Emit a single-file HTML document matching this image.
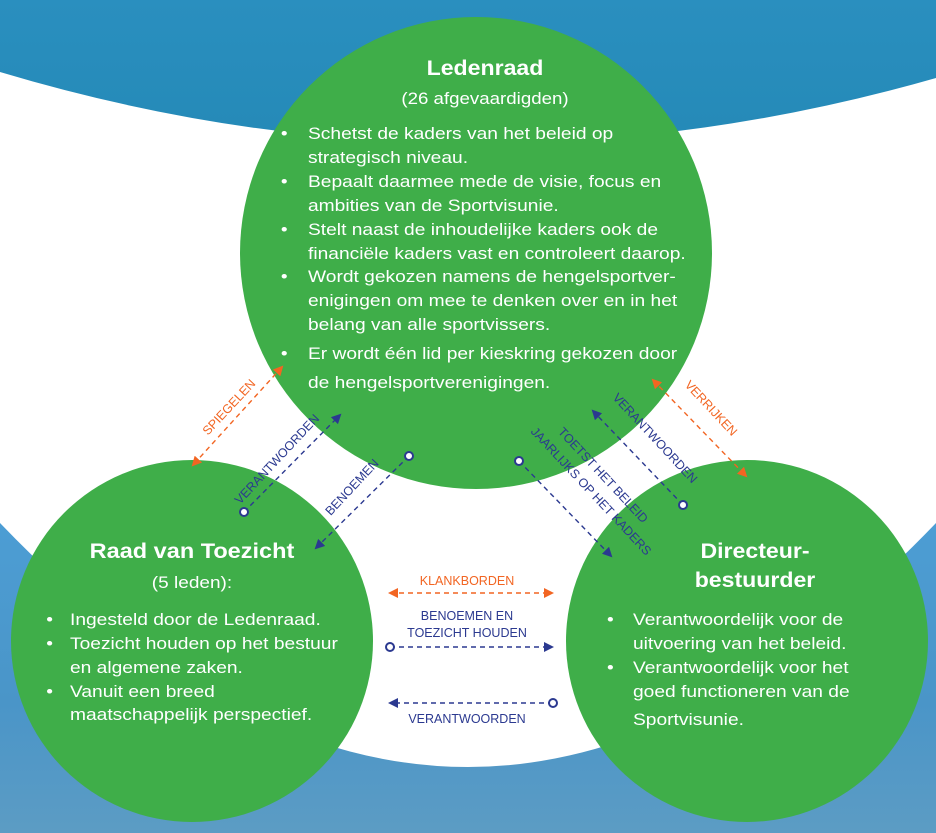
<!DOCTYPE html>
<html><head><meta charset="utf-8"><style>
html,body{margin:0;padding:0;width:936px;height:833px;overflow:hidden;background:#fff}
svg{display:block}
text{font-family:"Liberation Sans",sans-serif}
.w{fill:#fff;font-size:17px}
.h{fill:#fff;font-size:21px;font-weight:bold}
.b{fill:#2b3990;font-size:12.5px}
.o{fill:#f26522;font-size:12.5px}
</style></head><body>
<svg width="936" height="833" viewBox="0 0 936 833" xmlns="http://www.w3.org/2000/svg">
<defs>
<linearGradient id="tg" x1="0" y1="0" x2="0" y2="1"><stop offset="0" stop-color="#2a8fbf"/><stop offset="1" stop-color="#1a7fa8"/></linearGradient>
<linearGradient id="bg" x1="0" y1="0" x2="0" y2="1"><stop offset="0" stop-color="#4ea3dc"/><stop offset="0.7" stop-color="#4a95c8"/><stop offset="1" stop-color="#5c9cc4"/></linearGradient>
<marker id="ab" markerWidth="10" markerHeight="10" refX="8" refY="5" orient="auto-start-reverse" markerUnits="userSpaceOnUse"><path d="M0,0 L10,5 L0,10 Z" fill="#2b3990"/></marker>
<marker id="ao" markerWidth="10" markerHeight="10" refX="8" refY="5" orient="auto-start-reverse" markerUnits="userSpaceOnUse"><path d="M0,0 L10,5 L0,10 Z" fill="#f26522"/></marker>
<marker id="cb" markerWidth="12" markerHeight="12" refX="6" refY="6" orient="auto" markerUnits="userSpaceOnUse"><circle cx="6" cy="6" r="4" fill="#fff" stroke="#2b3990" stroke-width="2"/></marker>
</defs>
<rect width="936" height="420" fill="url(#tg)"/>
<rect y="400" width="936" height="433" fill="url(#bg)"/>
<path d="M0,82 Q468,240 936,88 L936,100 Q468,250 0,94 Z" fill="#0096d6"/>
<path d="M0,72 Q468,212 936,78 L936,523 Q468,1011 0,523 Z" fill="#fff"/>
<circle cx="476" cy="253" r="236" fill="#3fae49"/>
<circle cx="192" cy="641" r="181" fill="#3fae49"/>
<circle cx="747" cy="641" r="181" fill="#3fae49"/>

<g transform="translate(485,0) scale(1.1,1) translate(-485,0)">
<text class="h" x="485" y="75" text-anchor="middle">Ledenraad</text>
<text class="w" x="485" y="104" text-anchor="middle">(26 afgevaardigden)</text>
</g>
<g class="w" transform="translate(308,0) scale(1.13,1) translate(-308,0)">
<text x="284" y="139">•</text><text x="308" y="139">Schetst de kaders van het beleid op</text>
<text x="308" y="163">strategisch niveau.</text>
<text x="284" y="187">•</text><text x="308" y="187">Bepaalt daarmee mede de visie, focus en</text>
<text x="308" y="211">ambities van de Sportvisunie.</text>
<text x="284" y="235">•</text><text x="308" y="235">Stelt naast de inhoudelijke kaders ook de</text>
<text x="308" y="259">financiële kaders vast en controleert daarop.</text>
<text x="284" y="282">•</text><text x="308" y="282">Wordt gekozen namens de hengelsportver-</text>
<text x="308" y="306">enigingen om mee te denken over en in het</text>
<text x="308" y="330">belang van alle sportvissers.</text>
<text x="284" y="359">•</text><text x="308" y="359">Er wordt één lid per kieskring gekozen door</text>
<text x="308" y="388">de hengelsportverenigingen.</text>
</g>

<g transform="translate(192,0) scale(1.12,1) translate(-192,0)">
<text class="h" x="192" y="558" text-anchor="middle">Raad van Toezicht</text>
<text class="w" x="192" y="588" text-anchor="middle">(5 leden):</text>
</g>
<g class="w" transform="translate(70,0) scale(1.13,1) translate(-70,0)">
<text x="49" y="625">•</text><text x="70" y="625">Ingesteld door de Ledenraad.</text>
<text x="49" y="649">•</text><text x="70" y="649">Toezicht houden op het bestuur</text>
<text x="70" y="673">en algemene zaken.</text>
<text x="49" y="697">•</text><text x="70" y="697">Vanuit een breed</text>
<text x="70" y="720">maatschappelijk perspectief.</text>
</g>

<g transform="translate(755,0) scale(1.1,1) translate(-755,0)">
<text class="h" x="755" y="558" text-anchor="middle">Directeur-</text>
<text class="h" x="755" y="587" text-anchor="middle">bestuurder</text>
</g>
<g class="w" transform="translate(633,0) scale(1.13,1) translate(-633,0)">
<text x="610" y="625">•</text><text x="633" y="625">Verantwoordelijk voor de</text>
<text x="633" y="649">uitvoering van het beleid.</text>
<text x="610" y="673">•</text><text x="633" y="673">Verantwoordelijk voor het</text>
<text x="633" y="697">goed functioneren van de</text>
<text x="633" y="725">Sportvisunie.</text>
</g>

<g fill="none" stroke-width="1.4" stroke-dasharray="5,4">
<line x1="282" y1="367" x2="193" y2="465" stroke="#f26522" marker-start="url(#ao)" marker-end="url(#ao)"/>
<line x1="244" y1="512" x2="340" y2="415" stroke="#2b3990" marker-start="url(#cb)" marker-end="url(#ab)"/>
<line x1="409" y1="456" x2="316" y2="548" stroke="#2b3990" marker-start="url(#cb)" marker-end="url(#ab)"/>
<line x1="519" y1="461" x2="611" y2="556" stroke="#2b3990" marker-start="url(#cb)" marker-end="url(#ab)"/>
<line x1="683" y1="505" x2="593" y2="411" stroke="#2b3990" marker-start="url(#cb)" marker-end="url(#ab)"/>
<line x1="653" y1="380" x2="746" y2="476" stroke="#f26522" marker-start="url(#ao)" marker-end="url(#ao)"/>
<line x1="390" y1="593" x2="552" y2="593" stroke="#f26522" marker-start="url(#ao)" marker-end="url(#ao)"/>
<line x1="390" y1="647" x2="552" y2="647" stroke="#2b3990" marker-start="url(#cb)" marker-end="url(#ab)"/>
<line x1="553" y1="703" x2="390" y2="703" stroke="#2b3990" marker-start="url(#cb)" marker-end="url(#ab)"/>
</g>

<text class="o" transform="translate(232,410) rotate(-47)" text-anchor="middle">SPIEGELEN</text>
<text class="b" transform="translate(280,462) rotate(-47)" text-anchor="middle">VERANTWOORDEN</text>
<text class="b" transform="translate(355,490) rotate(-47)" text-anchor="middle">BENOEMEN</text>
<text class="b" transform="translate(600,478) rotate(47)" text-anchor="middle">TOETST HET BELEID</text>
<text class="b" transform="translate(588,494) rotate(47)" text-anchor="middle">JAARLIJKS OP HET KADERS</text>
<text class="b" transform="translate(652,441) rotate(47)" text-anchor="middle">VERANTWOORDEN</text>
<text class="o" transform="translate(708,411) rotate(47)" text-anchor="middle">VERRIJKEN</text>

<text class="o" x="467" y="585" text-anchor="middle">KLANKBORDEN</text>
<text class="b" x="467" y="620" text-anchor="middle">BENOEMEN EN</text>
<text class="b" x="467" y="637" text-anchor="middle">TOEZICHT HOUDEN</text>
<text class="b" x="467" y="723" text-anchor="middle">VERANTWOORDEN</text>
</svg>
</body></html>
